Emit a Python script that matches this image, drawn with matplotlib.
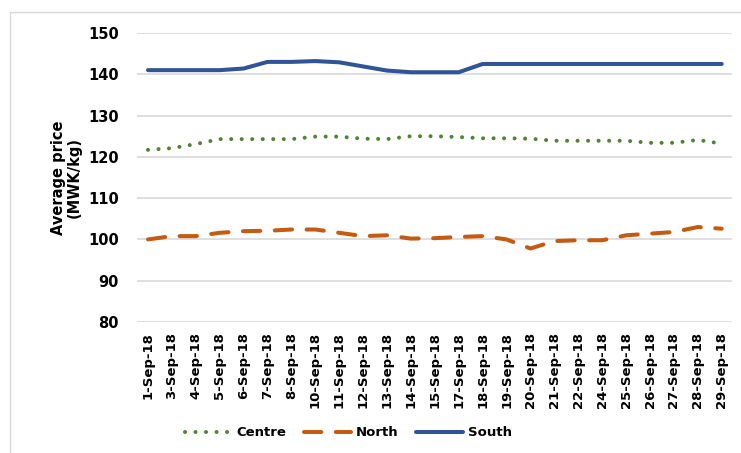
import matplotlib
matplotlib.use("Agg")
import matplotlib.pyplot as plt
from matplotlib.patches import Rectangle

dates = ["1-Sep-18", "3-Sep-18", "4-Sep-18", "5-Sep-18", "6-Sep-18", "7-Sep-18",
         "8-Sep-18", "10-Sep-18", "11-Sep-18", "12-Sep-18", "13-Sep-18", "14-Sep-18",
         "15-Sep-18", "17-Sep-18", "18-Sep-18", "19-Sep-18", "20-Sep-18", "21-Sep-18",
         "22-Sep-18", "24-Sep-18", "25-Sep-18", "26-Sep-18", "27-Sep-18", "28-Sep-18",
         "29-Sep-18"]
centre = [121.7, 122.1, 123.1, 124.3, 124.3, 124.3, 124.3, 124.9, 124.9, 124.4,
          124.3, 125.0, 125.0, 124.8, 124.5, 124.5, 124.4, 123.9, 123.9, 123.9,
          123.9, 123.4, 123.4, 124.1, 123.2]
north = [100.0, 100.8, 100.8, 101.6, 102.0, 102.1, 102.4, 102.4, 101.6, 100.8,
         101.0, 100.2, 100.3, 100.6, 100.8, 100.0, 97.8, 99.6, 99.8, 99.8,
         101.0, 101.4, 101.8, 103.0, 102.6]
south = [141.0, 141.0, 141.0, 141.0, 141.4, 143.0, 143.0, 143.2, 142.9, 141.9,
         140.9, 140.5, 140.5, 140.5, 142.5, 142.5, 142.5, 142.5, 142.5, 142.5,
         142.5, 142.5, 142.5, 142.5, 142.5]
yticks = [80, 90, 100, 110, 120, 130, 140, 150]

plt.rcParams['font.family'] = ['DejaVu Sans']

fig = plt.figure(figsize=(7.41, 4.53), dpi=100)
ax = fig.add_axes([137/741, 1-322/453, (732-137)/741, (322-33)/453])

# outer chart border (left/top visible)
fig.patches.append(Rectangle((10/741, -0.1), 1.2, 1 - 12/453 + 0.1,
                             transform=fig.transFigure, fill=False,
                             edgecolor='#d9d9d9', linewidth=1.0))

x = list(range(len(dates)))
lw = 2.9
ax.plot(x, centre, color='#548235', lw=lw, linestyle=(0, (0.01, 2.6)),
        dash_capstyle='round', label='Centre')
ax.plot(x, north, color='#C55A11', lw=lw, linestyle=(0, (4.3, 3.6)),
        dash_capstyle='round', label='North')
ax.plot(x, south, color='#2F5597', lw=lw, solid_capstyle='round', label='South')

ax.set_xlim(-0.46, 24.43)
ax.set_ylim(80, 150)
ax.set_yticks(yticks)
ax.set_yticklabels([str(v) for v in yticks], fontsize=10.5, fontweight='bold')
ax.set_xticks(x)
ax.set_xticklabels(dates, rotation=90, fontsize=9.5, fontweight='bold')
ax.tick_params(axis='both', length=0, colors='#000000')
ax.tick_params(axis='x', pad=7)
ax.tick_params(axis='y', pad=13)
ax.grid(axis='y', color='#d9d9d9', linewidth=1.2)
ax.set_axisbelow(True)
for s in ax.spines.values():
    s.set_visible(False)

ax.set_ylabel("Average price\n(MWK/kg)", fontsize=10.5, fontweight='bold',
              linespacing=1.05)
ax.yaxis.set_label_coords(-0.093, 0.5)

leg = fig.legend(loc='center', bbox_to_anchor=(0.47, 1-433/453), ncol=3,
                 frameon=False, handlelength=3.6,
                 columnspacing=1.3, handletextpad=0.35,
                 prop={'weight': 'bold', 'size': 9.5})

fig.savefig("out.png", dpi=100)
